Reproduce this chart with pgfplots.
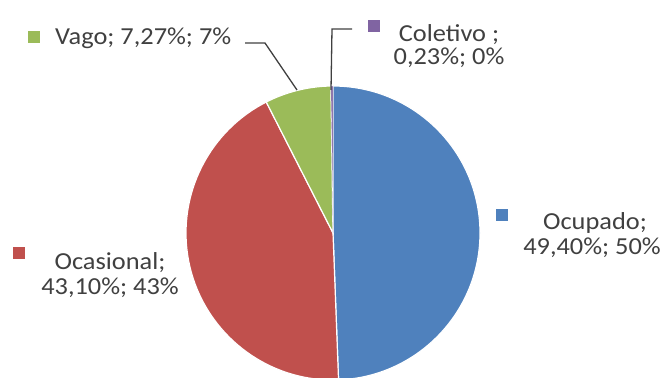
\documentclass[border=0pt]{standalone}
\usepackage{pgfplots}
\pgfplotsset{compat=1.18}
\usepackage{fontspec}
\setmainfont{Carlito}
\definecolor{cblue}{HTML}{4F81BD}
\definecolor{cred}{HTML}{C0504D}
\definecolor{cgreen}{HTML}{9BBB59}
\definecolor{cpurple}{HTML}{8064A2}
\definecolor{ctext}{HTML}{404040}
% data (percent)
\def\vOcupado{49.40}
\def\vOcasional{43.10}
\def\vVago{7.27}
\def\vColetivo{0.23}
\pgfmathsetmacro\aA{90}
\pgfmathsetmacro\aB{\aA-3.6*\vOcupado}
\pgfmathsetmacro\aC{\aB-3.6*\vOcasional}
\pgfmathsetmacro\aD{\aC-3.6*\vVago}
\pgfmathsetmacro\aE{\aD-3.6*\vColetivo}
\begin{document}
\begin{tikzpicture}
\begin{axis}[width=662bp,height=378bp,scale only axis,xmin=0,xmax=662,ymin=0,ymax=378,hide axis,clip=false]
\fill[cblue,draw=white,line width=1.2bp] (axis cs:333,145) -- ++(\aA:147bp) arc[start angle=\aA,end angle=\aB,radius=147bp] -- cycle;
\fill[cred,draw=white,line width=1.2bp] (axis cs:333,145) -- ++(\aB:147bp) arc[start angle=\aB,end angle=\aC,radius=147bp] -- cycle;
\fill[cgreen,draw=white,line width=1.2bp] (axis cs:333,145) -- ++(\aC:147bp) arc[start angle=\aC,end angle=\aD,radius=147bp] -- cycle;
\fill[cpurple,draw=white,line width=0.3bp] (axis cs:333,145) -- ++(\aD:147bp) arc[start angle=\aD,end angle=\aE,radius=147bp] -- cycle;
% leader lines
\draw[ctext,line width=1.3bp] (axis cs:245,335) -- (axis cs:265,335) -- (axis cs:297,288);
\draw[ctext,line width=1.3bp] (axis cs:331,288) -- (axis cs:332,349) -- (axis cs:352,349);
% legend keys
\fill[cgreen] (axis cs:28,335) rectangle (axis cs:40,347);
\fill[cpurple] (axis cs:368,346) rectangle (axis cs:380,358);
\fill[cred] (axis cs:13,119) rectangle (axis cs:25,131);
\fill[cblue] (axis cs:496,157) rectangle (axis cs:508,169);
% labels
\tikzset{lab/.style={text=ctext,inner sep=0pt,xscale=1.08,font=\fontsize{24.5}{25}\selectfont}}
\node[lab,anchor=base west] at (axis cs:55,333) {Vago; 7,27\%; 7\%};
\node[lab,anchor=base] at (axis cs:449,336) {Coletivo ;};
\node[lab,anchor=base] at (axis cs:449,313) {0,23\%; 0\%};
\node[lab,anchor=base] at (axis cs:110,108) {Ocasional;};
\node[lab,anchor=base] at (axis cs:110,83) {43,10\%; 43\%};
\node[lab,anchor=base] at (axis cs:595,148) {Ocupado;};
\node[lab,anchor=base] at (axis cs:592,123) {49,40\%; 50\%};
\end{axis}
\pgfresetboundingbox
\path (0,0) rectangle (662bp,378bp);
\end{tikzpicture}
\end{document}
